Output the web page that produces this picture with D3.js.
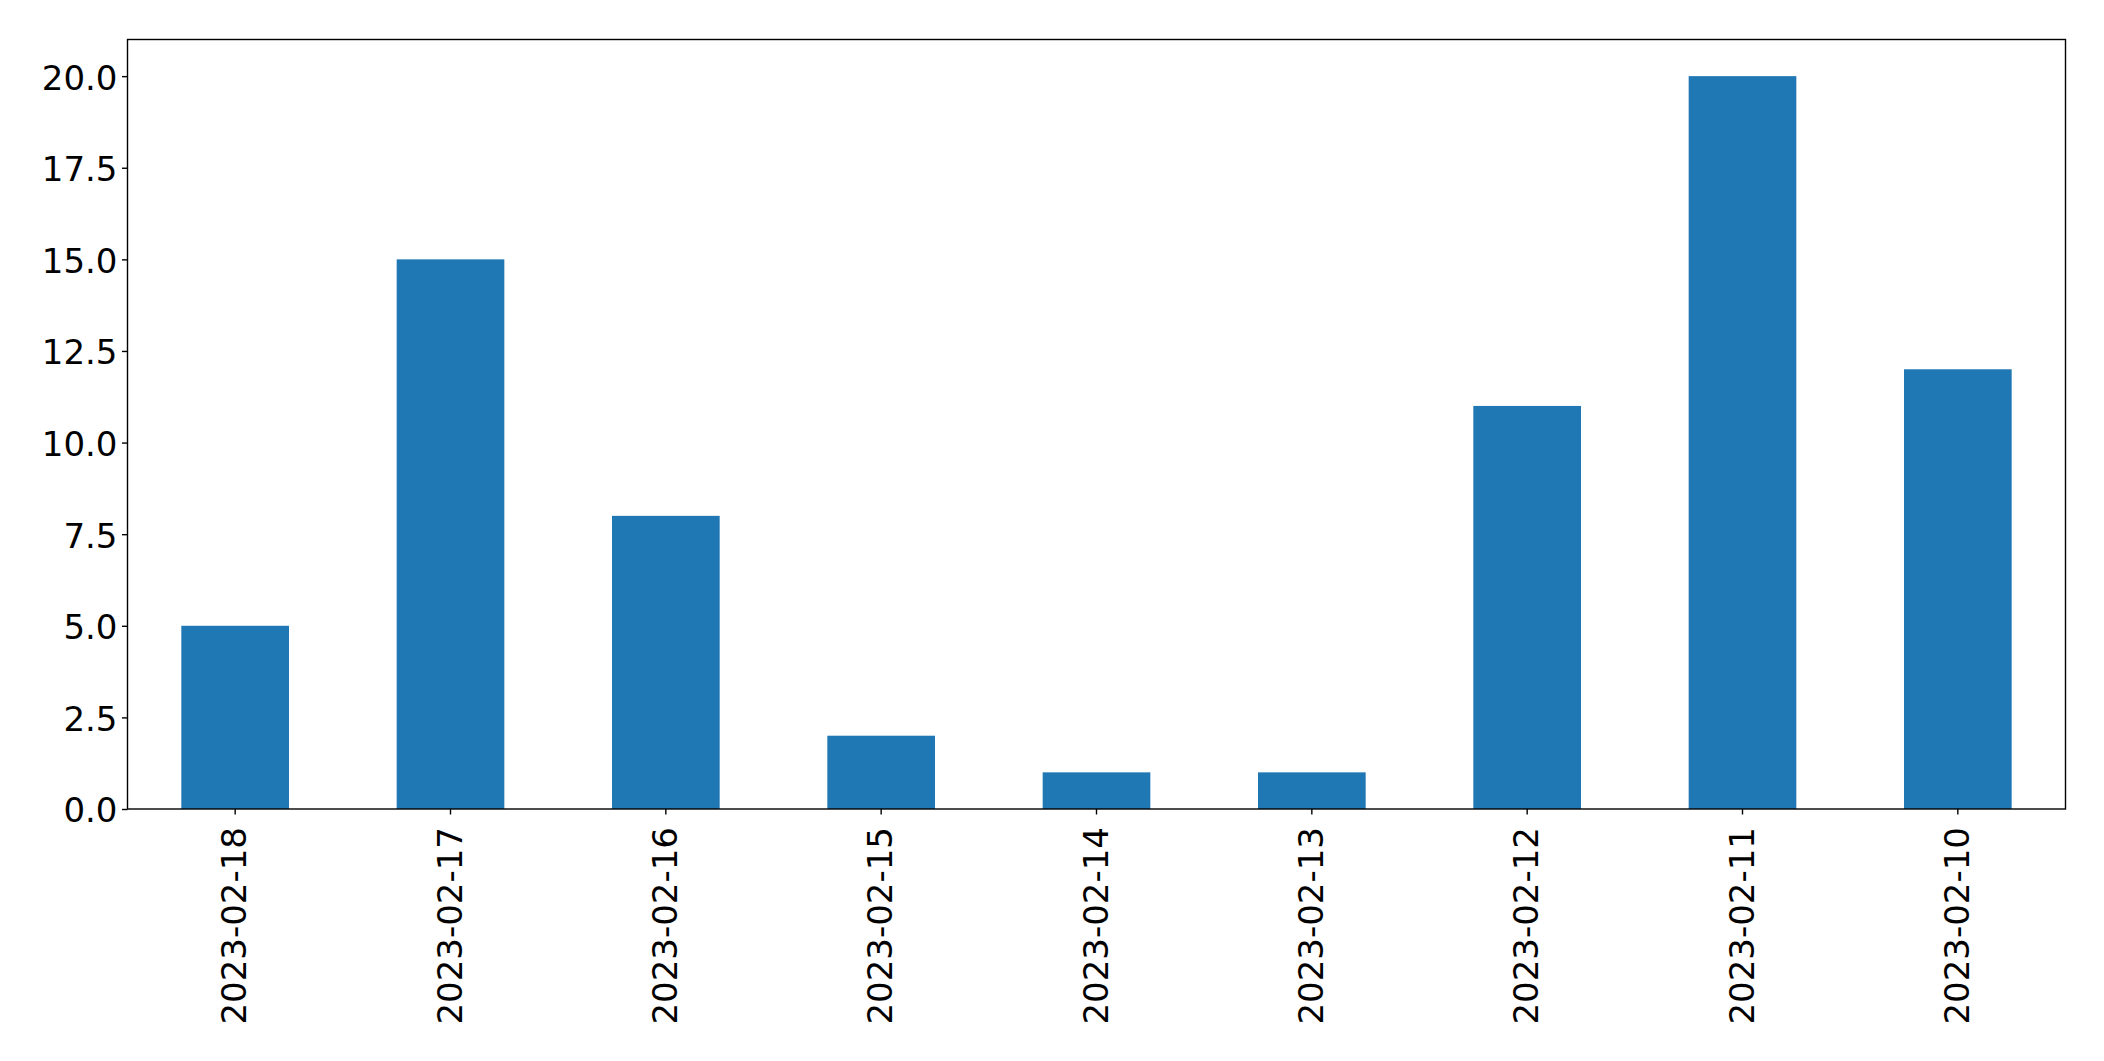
<!DOCTYPE html>
<html>
<head>
<meta charset="utf-8">
<script src="https://cdn.jsdelivr.net/npm/d3@7"></script>
<style>
  html, body { margin: 0; padding: 0; background: #fff; }
  svg { display: block; }
  text { font-family: "DejaVu Sans", sans-serif; fill: #000; }
</style>
</head>
<body>
<svg id="chart" width="2104" height="1061"></svg>
<script>
const categories = ["2023-02-18","2023-02-17","2023-02-16","2023-02-15","2023-02-14","2023-02-13","2023-02-12","2023-02-11","2023-02-10"];
const values = [5, 15, 8, 2, 1, 1, 11, 20, 12];
const yTicks = [0, 2.5, 5, 7.5, 10, 12.5, 15, 17.5, 20];

const W = 2104, H = 1061;
const m = { left: 127.5, top: 39.5, right: 2065.5, bottom: 809 };
const fontSize = 34;

const svg = d3.select("#chart");

const x = d3.scaleBand().domain(categories).range([m.left, m.right]).paddingInner(0).paddingOuter(0);
const y = d3.scaleLinear().domain([0, 21]).range([m.bottom, m.top]);

const bw = x.bandwidth() * 0.5;
svg.append("g").selectAll("rect").data(values).join("rect")
  .attr("x", (d, i) => x(categories[i]) + x.bandwidth() / 2 - bw / 2)
  .attr("y", d => y(d))
  .attr("width", bw)
  .attr("height", d => y(0) - y(d))
  .attr("fill", "#1f77b4");

// Frame
svg.append("rect")
  .attr("x", m.left).attr("y", m.top)
  .attr("width", m.right - m.left).attr("height", m.bottom - m.top)
  .attr("fill", "none").attr("stroke", "#000").attr("stroke-width", 1.4);

// Y axis
const yAxis = d3.axisLeft(y).tickValues(yTicks).tickFormat(d3.format(".1f")).tickSize(5.5).tickPadding(4.5);
const gy = svg.append("g").attr("transform", `translate(${m.left},0)`).call(yAxis);
gy.select(".domain").remove();
gy.selectAll(".tick line").attr("stroke", "#000").attr("stroke-width", 1.4);
gy.selectAll(".tick text").attr("font-size", fontSize).attr("font-family", "DejaVu Sans").attr("dy", "0.38em");

// X axis
const xAxis = d3.axisBottom(x).tickSize(5.5).tickPadding(7);
const gx = svg.append("g").attr("transform", `translate(0,${m.bottom})`).call(xAxis);
gx.select(".domain").remove();
gx.selectAll(".tick line").attr("stroke", "#000").attr("stroke-width", 1.4);
gx.selectAll(".tick text")
  .attr("font-size", fontSize).attr("font-family", "DejaVu Sans")
  .attr("transform", "rotate(-90)")
  .attr("text-anchor", "end")
  .attr("x", -18)
  .attr("y", 0)
  .attr("dy", "0.33em");
</script>
</body>
</html>
